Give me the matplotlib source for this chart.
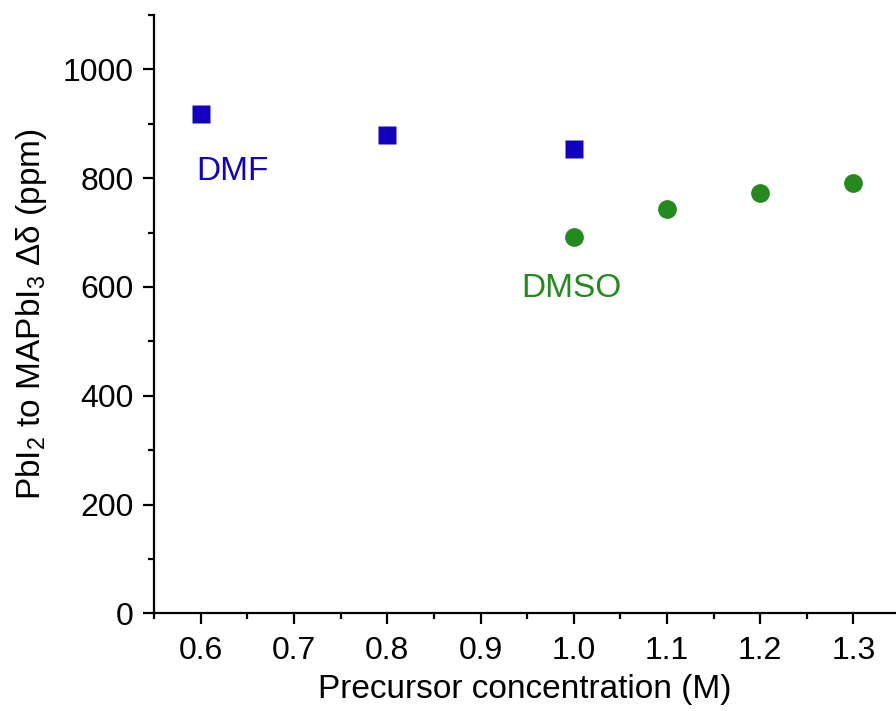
import numpy as np
import matplotlib
matplotlib.use('Agg')
import matplotlib.pyplot as plt
from matplotlib.ticker import MultipleLocator

plt.rcParams['font.family'] = ['Liberation Sans', 'DejaVu Sans']
plt.rcParams['mathtext.fontset'] = 'custom'
plt.rcParams['mathtext.rm'] = 'Liberation Sans'
plt.rcParams['mathtext.it'] = 'Liberation Sans:italic'
plt.rcParams['font.size'] = 23

# PbI2 -> MAPbI3 shift vs concentration
dmf_conc = [0.6, 0.8, 1.0]
dmf_shift = [918, 879, 853]
dmso_conc = [1.0, 1.1, 1.2, 1.3]
dmso_shift = [691, 743, 773, 791]

blue = '#1400BF'
green = '#258A1E'

fig = plt.figure(figsize=(8.96, 7.11), dpi=100)
ax = fig.add_axes([0.1722, 0.1374, 0.8278, 0.8415])

ax.plot(dmf_conc, dmf_shift, 's', color=blue, ms=12.5, mec='none')
ax.plot(dmso_conc, dmso_shift, 'o', color=green, ms=13.5, mec='none')

ax.text(0.634, 813, 'DMF', color=blue, ha='center', va='center', fontsize=24)
ax.text(0.998, 598, 'DMSO', color=green, ha='center', va='center', fontsize=24)

ax.set_xlim(0.55, 1.3458)
ax.set_ylim(0, 1100)
ax.xaxis.set_major_locator(MultipleLocator(0.1))
ax.xaxis.set_minor_locator(MultipleLocator(0.05))
ax.yaxis.set_major_locator(MultipleLocator(200))
ax.yaxis.set_minor_locator(MultipleLocator(100))
ax.xaxis.set_major_formatter(matplotlib.ticker.FormatStrFormatter('%.1f'))

for s in ['top', 'right']:
    ax.spines[s].set_visible(False)
for s in ['left', 'bottom']:
    ax.spines[s].set_linewidth(1.6)

ax.tick_params(which='major', direction='out', length=8, width=1.6)
ax.tick_params(which='minor', direction='out', length=4.5, width=1.6)
ax.tick_params(axis='x', which='major', pad=8)
ax.tick_params(axis='y', which='major', pad=7)

ax.set_xlabel('Precursor concentration (M)', labelpad=6, fontsize=24)
ax.set_ylabel(r'PbI$\mathregular{_2}$ to MAPbI$\mathregular{_3}$ Δδ (ppm)',
              labelpad=10, fontsize=24)

fig.savefig('out.png', dpi=100)
